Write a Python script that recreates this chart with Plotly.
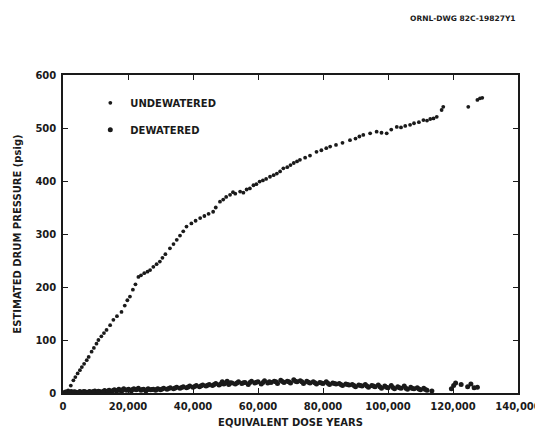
import plotly.graph_objects as go

# ---- data ----
undew_x = [1000, 1600, 2400, 3200, 3800, 4500, 5200, 5800, 6500, 7300, 7900, 8800, 9500, 10300,
           10900, 11800, 12600, 13400, 14500, 15500, 16600, 18000, 19000, 19800, 20600, 21500,
           22300, 23200, 24000, 25000, 26000, 26800, 27800, 28800, 29800, 30600, 31500, 32900,
           34000, 35000, 36000, 37000, 38000, 39500, 40800, 42200, 43500, 44800, 46200, 47000,
           48300, 49300, 50200, 51400, 52300, 53000, 54500, 55500, 56500, 57500, 58600, 59500,
           60500, 61500, 62500, 63700, 64800, 65800, 66800, 67800, 69000, 70000, 71000, 72000,
           72900, 74500, 76000, 78000, 79500, 81000, 82200, 84000, 86000, 88300, 90000, 91200,
           92400, 94500, 96500, 98000, 99600, 101000, 102700, 104000, 105300, 106800, 108000,
           109500, 110900, 112000, 113000, 114000, 115000, 116500, 117000, 124700, 127500,
           128300, 129000]
undew_y = [2, 5, 14, 24, 30, 37, 43, 49, 55, 62, 68, 78, 85, 93,
           100, 107, 113, 119, 128, 138, 145, 153, 165, 175, 182, 195,
           205, 219, 222, 226, 229, 232, 238, 243, 248, 255, 262, 273,
           281, 289, 297, 305, 314, 320, 325, 330, 334, 338, 342, 350,
           361, 365, 370, 374, 379, 376, 380, 378, 384, 386, 392, 394,
           399, 401, 404, 408, 411, 414, 418, 424, 426, 430, 434, 437,
           440, 444, 448, 455, 458, 462, 465, 468, 472, 477, 480, 484,
           487, 490, 493, 491, 490, 497, 502, 501, 504, 506, 509,
           511, 515, 514, 517, 518, 521, 534, 540, 540, 553,
           556, 557]

dew_x = [500, 1200, 1800, 2500, 3000, 3800, 4500, 5200, 6000, 6800, 7500, 8200, 9000, 9800,
         10500, 11200, 12000, 12800, 13500, 14200, 15000, 15800, 16500, 17200, 18000, 18700,
         19500, 20200, 21000, 21800, 22500, 23200, 24000, 24800, 25500, 26200, 27000, 27800,
         28500, 29200, 30000, 31000, 32000, 33000, 34000, 35000, 36000, 37000, 38000, 39000,
         40000, 41000, 42000, 43000, 44000, 45000, 46000, 47000, 48000, 49000, 49500, 50500,
         51000, 52000, 53000, 54000, 55000, 56000, 57000, 58000, 59000, 60000, 61000, 62000,
         63000, 64000, 65000, 66000, 67000, 68000, 69000, 70000, 71000, 72000, 73000, 74000,
         75000, 76000, 77000, 78000, 79000, 80000, 81000, 82000, 83000, 84000, 85000, 86000,
         87000, 88000, 89000, 90000, 91000, 92000, 93000, 94000, 95000, 96000, 97000, 98000,
         99000, 100000, 101000, 102000, 103000, 104000, 105000, 106000, 107000, 108000,
         109000, 110000, 111000, 112000, 113500, 119500, 120200, 120800, 122500, 124500,
         125500, 126500, 127500,
         # second pass across the band
         800, 2100, 3400, 4900, 6400, 7900, 9400, 10900, 12400, 13900, 15400, 16900,
         18400, 19900, 21400, 22900, 24400, 25900, 27400, 28900, 30500, 32500, 34500,
         36500, 38500, 40500, 42500, 44500, 46500, 48500, 50000, 51500, 53500, 55500,
         57500, 59500, 61500, 63500, 65500, 67500, 69500, 71500, 73500, 75500, 77500,
         79500, 81500, 83500, 85500, 87500, 89500, 91500, 93500, 95500, 97500, 99500,
         101500, 103500, 105500, 107500, 109500, 111500]
dew_y = [1, 2, 0.5, 3, 1, 2, 0.5, 3, 1.5, 2.5, 1, 3, 2, 4,
         1.5, 3, 2, 4.5, 3, 5, 2.5, 6, 4, 7, 3, 8,
         5, 7, 4, 8, 6, 9, 5, 7, 4, 8, 6, 7,
         5, 8, 6, 9, 7, 10, 8, 11, 9, 12, 10, 13,
         11, 14, 12, 15, 13, 16, 14, 18, 15, 21, 17, 22,
         16, 19, 17, 21, 18, 20, 16, 22, 19, 21, 17, 23,
         19, 20, 22, 18, 24, 20, 22, 19, 25, 21, 23, 18,
         22, 19, 21, 17, 20, 18, 21, 16, 19, 17, 18, 14,
         17, 15, 16, 12, 15, 13, 16, 11, 14, 12, 15, 9,
         13, 10, 14, 8, 12, 9, 13, 7, 11, 8,
         10, 6, 9, 5, 4, 8, 14, 19, 16, 12,
         17, 10, 11,
         2, 1, 2.5, 1.5, 3, 2, 3, 3.5, 3, 4, 4.5, 5,
         6, 6, 6.5, 7, 6.5, 6, 6.5, 7, 7.5, 8.5, 9.5,
         10.5, 11.5, 12.5, 13.5, 14.5, 16, 17, 19, 19.5, 19, 19.5,
         20, 20.5, 20, 21, 21, 21.5, 21, 22, 21, 20.5, 19.5,
         19, 18.5, 18, 16, 16, 14, 14, 13, 13, 12, 11,
         10.5, 10, 9, 8.5, 7.5, 6.5]

x_ticks = [0, 20000, 40000, 60000, 80000, 100000, 120000, 140000]
x_tick_labels = ["0", "20,000", "40,000", "60,000", "80,000", "100,000", "120,000", "140,000"]
y_ticks = [0, 100, 200, 300, 400, 500, 600]

FONT = "DejaVu Sans"
INK = "#1a1a1a"

def f(size):
    return dict(family=FONT, size=size, color=INK, weight="bold")

fig = go.Figure()
fig.add_trace(go.Scatter(
    x=undew_x, y=undew_y, mode="markers", name="UNDEWATERED", legendgroup="a",
    marker=dict(symbol="circle", size=3.8, color=INK),
))
fig.add_trace(go.Scatter(
    x=dew_x, y=dew_y, mode="markers", name="DEWATERED", legendgroup="b",
    marker=dict(symbol="circle", size=5, color=INK),
))

axis_common = dict(
    showline=True, linecolor=INK, linewidth=1.5, mirror="ticks",
    ticks="inside", ticklen=5, tickcolor=INK, tickwidth=1,
    showgrid=False, zeroline=False, automargin=False,
    tickfont=f(10), ticklabelstandoff=3,
)

# the page body adds an 8px offset, so the figure is 8px smaller than the window
fig.update_layout(
    width=535, height=422,
    margin=dict(l=55, r=25, t=67, b=37),
    paper_bgcolor="white", plot_bgcolor="white",
    font=dict(family=FONT, color=INK),
    showlegend=True,
    legend=dict(
        x=0.06, y=0.958, xanchor="left", yanchor="top",
        bgcolor="rgba(0,0,0,0)", borderwidth=0,
        font=f(10),
        traceorder="grouped", tracegroupgap=8, itemwidth=30,
    ),
    xaxis=dict(
        range=[0, 140000], tickvals=x_ticks, ticktext=x_tick_labels,
        title=dict(text="EQUIVALENT DOSE YEARS", font=f(10), standoff=8),
        **axis_common,
    ),
    yaxis=dict(
        range=[0, 600], tickvals=y_ticks,
        title=dict(text="ESTIMATED DRUM PRESSURE (psig)", font=f(10), standoff=12),
        **axis_common,
    ),
    annotations=[dict(
        text="ORNL-DWG 82C-19827Y1", xref="paper", yref="paper",
        x=1.0, y=1.0, yshift=57, xanchor="right", yanchor="middle", showarrow=False,
        font=f(7.5),
    )],
)

fig.write_html("out.html")
